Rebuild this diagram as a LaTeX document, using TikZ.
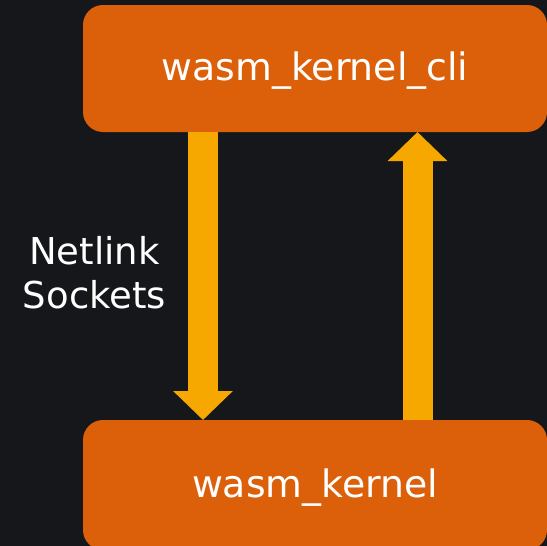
\documentclass[tikz,border=0pt]{standalone}
\usepackage{fontspec}
\setmainfont{DejaVu Sans}
\usetikzlibrary{arrows.meta}
\definecolor{bg}{HTML}{16171A}
\definecolor{boxorange}{HTML}{DC600A}
\definecolor{arrowamber}{HTML}{F6A800}
\begin{document}
\begin{tikzpicture}[x=1pt,y=-1pt,
  box/.style={rectangle, rounded corners=20pt, fill=boxorange, draw=none,
    minimum width=464pt, inner sep=0pt, text=white,
    text height=26pt, text depth=2pt,
    font=\fontsize{37.8}{44}\selectfont},
  flow/.style={draw=arrowamber, line width=30pt,
    -{Triangle[width=58pt,length=29pt,fill=arrowamber]}},
  lbl/.style={text=white, align=center, inner sep=0pt,
    font=\fontsize{37}{44}\selectfont}]
\fill[bg] (0,0) rectangle (547,546);
\useasboundingbox (0,0) rectangle (547,546);
\node[box, minimum height=127pt] (cli) at (315,68.5) {wasm\_kernel\_cli};
\node[box, minimum height=130pt] (kern) at (315,485) {wasm\_kernel};
\coordinate (d1) at (203,132);
\coordinate (d2) at (203,420);
\coordinate (u1) at (417.5,420);
\coordinate (u2) at (417.5,132);
\draw[flow] (d1) -- (d2);
\draw[flow] (u1) -- (u2);
\node[lbl] (net) at (94.5,273) {Netlink\\Sockets};
\end{tikzpicture}
\end{document}
